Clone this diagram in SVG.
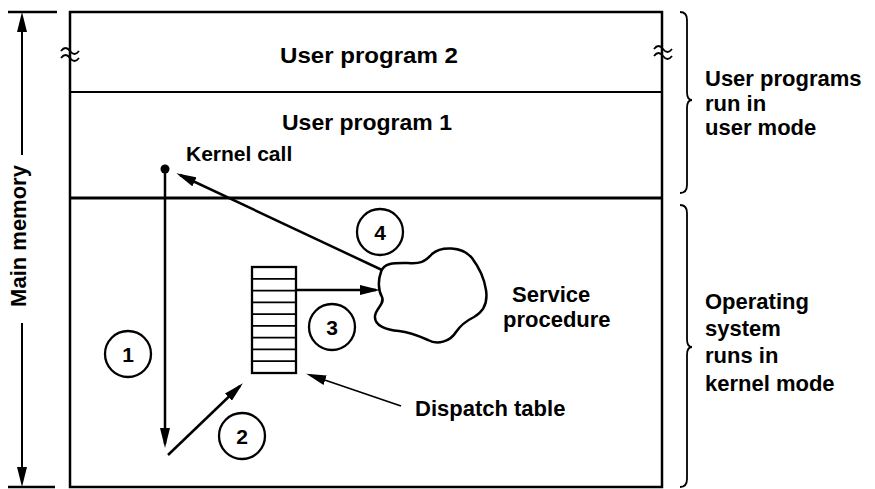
<svg xmlns="http://www.w3.org/2000/svg" width="875" height="489" viewBox="0 0 875 489">
<style>
  .t { font-family: "Liberation Sans", Arial, sans-serif; font-weight: bold; font-size: 22px; fill: #000; }
  .n { font-family: "Liberation Sans", Arial, sans-serif; font-weight: bold; font-size: 21px; fill: #000; text-anchor: middle; }
  .ln { stroke: #000; stroke-width: 2.5; fill: none; }
  .thin { stroke: #000; stroke-width: 1.8; fill: none; }
  .circ { stroke: #000; stroke-width: 2.3; fill: #fff; }
  .arr { stroke: #000; stroke-width: 2.5; fill: none; marker-end: url(#ah); }
</style>
<defs>
  <marker id="ah" markerUnits="userSpaceOnUse" viewBox="0 0 20 10" markerWidth="20" markerHeight="10" refX="16" refY="5" orient="auto">
    <path d="M0,0 L20,5 L0,10 z" fill="#000"/>
  </marker>
</defs>
<rect width="875" height="489" fill="#fff"/>

<g id="main-memory">
  <line class="ln" x1="8" y1="12" x2="57" y2="12"/>
  <line class="ln" x1="8" y1="487" x2="55" y2="487"/>
  <line class="arr" x1="22" y1="155" x2="22" y2="16" style="stroke-width:2"/>
  <line class="arr" x1="22" y1="323" x2="22" y2="483" style="stroke-width:2"/>
  <text class="t" transform="translate(26,236) rotate(-90)" text-anchor="middle">Main memory</text>
</g>

<g id="memory-box">
  <rect class="ln" x="70" y="12" width="592" height="475"/>
  <line class="ln" x1="70" y1="92" x2="662" y2="92" style="stroke-width:2.2"/>
  <line class="ln" x1="70" y1="198" x2="662" y2="198" style="stroke-width:2.8"/>
  <path class="thin" d="M61,51 c3,-4 6,-4 9,0 s6,4 9,0 M61,58 c3,-4 6,-4 9,0 s6,4 9,0"/>
  <path class="thin" d="M654,49 c3,-4 6,-4 9,0 s6,4 9,0 M654,56 c3,-4 6,-4 9,0 s6,4 9,0"/>
</g>

<g id="user-program-2">
  <text class="t" x="280" y="63" textLength="178" lengthAdjust="spacingAndGlyphs">User program 2</text>
</g>
<g id="user-program-1">
  <text class="t" x="282" y="130" textLength="170" lengthAdjust="spacingAndGlyphs">User program 1</text>
</g>
<g id="kernel-call">
  <circle cx="165" cy="169" r="4.5" fill="#000"/>
  <text class="t" x="186" y="161" style="font-size:21px">Kernel call</text>
</g>

<g id="dispatch-table">
  <rect class="ln" x="252" y="267" width="44" height="106" style="stroke-width:2.3"/>
  <path class="thin" d="M252,278.8 H296 M252,290.6 H296 M252,302.3 H296 M252,314.1 H296 M252,325.9 H296 M252,337.7 H296 M252,349.4 H296 M252,361.2 H296"/>
</g>

<g id="service-procedure">
  <path class="ln" d="M381,272 C384,262 396,263 408,263 C420,264 425,262 432,254 C441,246 462,246 472,258 C478,266 484,276 486,290 C488,303 483,312 474,317 C466,321 460,326 456,332 C450,342 437,345 428,340 C419,336 410,332 399,331 C387,330 374,326 375,316 C376,308 385,304 382,297 C378,290 378,280 381,272 Z"/>
  <text class="t" x="512" y="302">Service</text>
  <text class="t" x="503" y="327">procedure</text>
</g>

<g id="dispatch-label">
  <text class="t" x="415" y="416">Dispatch table</text>
</g>

<g id="user-mode-label">
  <path class="ln" style="stroke-width:1.8" d="M680,12 Q687,12 687,20 L687,92 Q687,100 692,100 Q687,100 687,108 L687,185 Q687,193 680,193"/>
  <text class="t" x="705" y="86">User programs</text>
  <text class="t" x="705" y="111">run in</text>
  <text class="t" x="705" y="135">user mode</text>
</g>

<g id="kernel-mode-label">
  <path class="ln" style="stroke-width:1.8" d="M680,205 Q687,205 687,213 L687,339 Q687,347 692,347 Q687,347 687,355 L687,479 Q687,487 680,487"/>
  <text class="t" x="705" y="309">Operating</text>
  <text class="t" x="705" y="336">system</text>
  <text class="t" x="705" y="363">runs in</text>
  <text class="t" x="705" y="391">kernel mode</text>
</g>

<g id="connectors">
  <line class="arr" x1="165" y1="169" x2="165" y2="444"/>
  <line class="arr" x1="168" y1="455" x2="240" y2="386"/>
  <line class="arr" x1="296" y1="290" x2="376" y2="290"/>
  <line class="arr" x1="382" y1="270" x2="180" y2="175"/>
  <line class="arr" x1="401" y1="406" x2="310" y2="375" style="stroke-width:1.8"/>
</g>

<g id="step-1"><circle class="circ" cx="128" cy="354" r="23"/><text class="n" x="128" y="362">1</text></g>
<g id="step-2"><circle class="circ" cx="242" cy="436" r="23"/><text class="n" x="242" y="444">2</text></g>
<g id="step-3"><circle class="circ" cx="332" cy="327" r="23"/><text class="n" x="332" y="335">3</text></g>
<g id="step-4"><circle class="circ" cx="380" cy="232" r="23"/><text class="n" x="380" y="240">4</text></g>
</svg>
